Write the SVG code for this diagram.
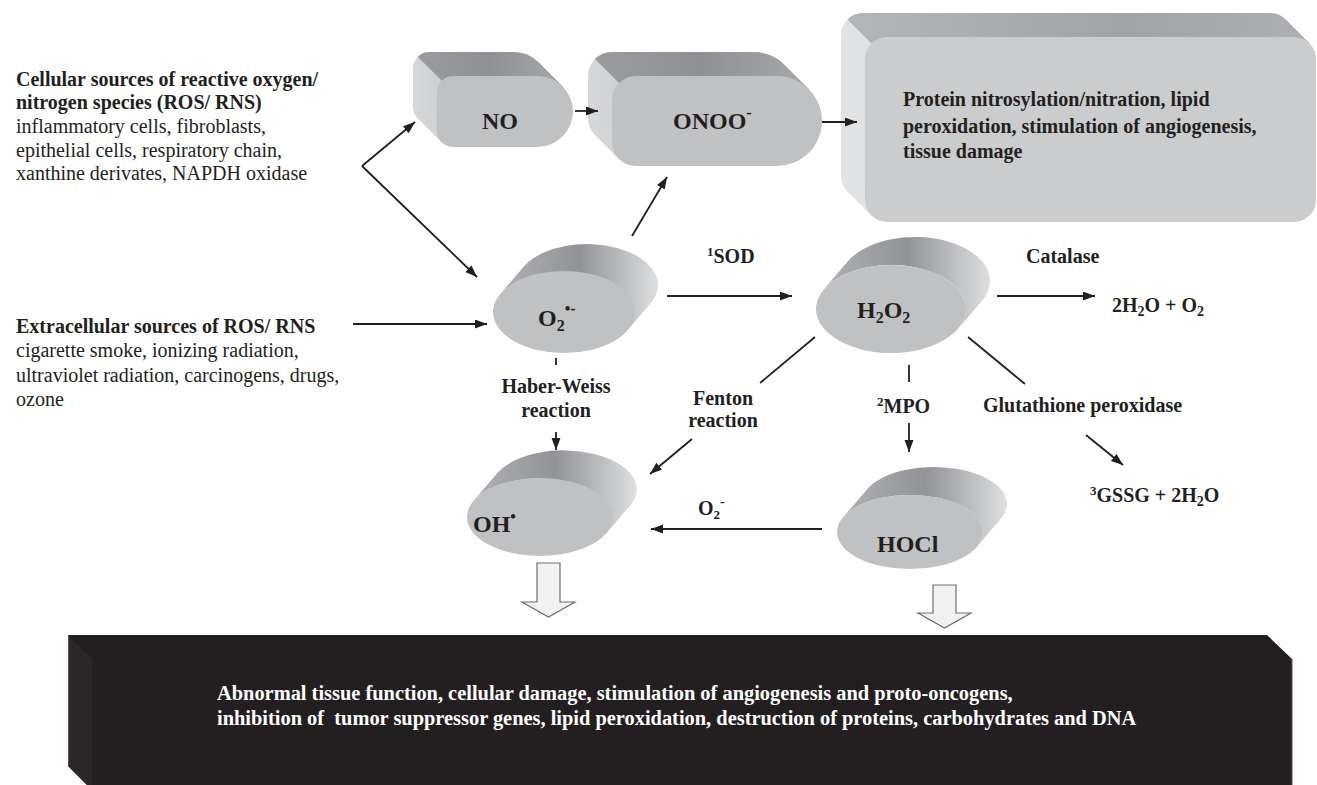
<svg xmlns="http://www.w3.org/2000/svg" width="1317" height="785" viewBox="0 0 1317 785">
<style>
text{font-family:"Liberation Serif","Times New Roman",serif;fill:#231f20}
.b{font-weight:bold}
.l{font-size:20px}
.n{font-size:24px;font-weight:bold}
.w{fill:#ffffff;font-size:20.4px;font-weight:bold;white-space:pre}
.c{stroke:#231f20;stroke-width:1.8;fill:none}
.a{marker-end:url(#ah)}
.front{fill:#c0c1c3}
.pfront{fill:#cbcccd}
.hollow{fill:#f1f1f1;stroke:#6d6e71;stroke-width:1.2}
</style>
<defs>
<marker id="ah" markerUnits="userSpaceOnUse" markerWidth="12" markerHeight="10" refX="12" refY="4.5" orient="auto">
<path d="M0,0 L12,4.5 L0,9 Z" fill="#231f20"/>
</marker>
<linearGradient id="side" x1="0" y1="0" x2="1" y2="0">
<stop offset="0" stop-color="#b0b1b4"/>
<stop offset="0.5" stop-color="#929396"/>
<stop offset="1" stop-color="#dedfe1"/>
</linearGradient>
<linearGradient id="left" x1="0" y1="0" x2="1" y2="0">
<stop offset="0" stop-color="#d6d7d9"/>
<stop offset="1" stop-color="#b2b3b6"/>
</linearGradient>
<linearGradient id="top" x1="0" y1="0" x2="1" y2="0">
<stop offset="0" stop-color="#9a9b9e"/>
<stop offset="0.5" stop-color="#8f9093"/>
<stop offset="1" stop-color="#a7a8ab"/>
</linearGradient>
<linearGradient id="pleft" x1="0" y1="0" x2="1" y2="0">
<stop offset="0" stop-color="#e2e3e4"/>
<stop offset="1" stop-color="#c8c9cb"/>
</linearGradient>
<linearGradient id="ptop" x1="0" y1="0" x2="1" y2="0">
<stop offset="0" stop-color="#b4b5b7"/>
<stop offset="0.6" stop-color="#a2a3a6"/>
<stop offset="1" stop-color="#aeafb2"/>
</linearGradient>
</defs>

<g id="text-cellular">
<text class="l b" x="16" y="86">Cellular sources of reactive oxygen/</text>
<text class="l b" x="16" y="109">nitrogen species (ROS/ RNS)</text>
<text class="l" x="16" y="133">inflammatory cells, fibroblasts,</text>
<text class="l" x="16" y="157">epithelial cells, respiratory chain,</text>
<text class="l" x="16" y="180">xanthine derivates, NAPDH oxidase</text>
</g>

<g id="text-extracellular">
<text class="l b" x="16" y="333">Extracellular sources of ROS/ RNS</text>
<text class="l" x="16" y="357">cigarette smoke, ionizing radiation,</text>
<text class="l" x="16" y="382">ultraviolet radiation, carcinogens, drugs,</text>
<text class="l" x="16" y="406">ozone</text>
</g>

<g id="node-NO">
<path fill="url(#left)" d="M429,52 L513.5,52 A35.5,35.5 0 0 1 513.5,123 L429,123 A16,16 0 0 1 413,107 L413,68 A16,16 0 0 1 429,52 Z"/>
<path fill="url(#left)" d="M538.6,62.4 L562.6,86.4 L441.7,142.3 L417.7,118.3 Z"/>
<path fill="url(#top)" d="M417.7,56.7 A16,16 0 0 1 429,52 L513.5,52 A35.5,35.5 0 0 1 538.6,62.4 L562.6,86.4 L441.7,80.7 Z"/>
<path class="front" d="M453,76 L537.5,76 A35.5,35.5 0 0 1 537.5,147 L453,147 A16,16 0 0 1 437,131 L437,92 A16,16 0 0 1 453,76 Z"/>
<text class="n" x="500" y="129" text-anchor="middle">NO</text>
</g>

<g id="node-ONOO">
<path fill="url(#left)" d="M612,52 L753,52 A45,45 0 0 1 753,142 L612,142 A24,24 0 0 1 588,118 L588,76 A24,24 0 0 1 612,52 Z"/>
<path fill="url(#left)" d="M784.8,65.2 L808.8,89.2 L619,159 L595,135 Z"/>
<path fill="url(#top)" d="M595,59 A24,24 0 0 1 612,52 L753,52 A45,45 0 0 1 784.8,65.2 L808.8,89.2 L619,83 Z"/>
<path class="front" d="M636,76 L777,76 A45,45 0 0 1 777,166 L636,166 A24,24 0 0 1 612,142 L612,100 A24,24 0 0 1 636,76 Z"/>
<text class="n" x="673" y="129">ONOO<tspan font-size="16" dy="-11">-</tspan></text>
</g>

<g id="node-protein">
<rect x="841" y="13" width="451" height="185" rx="22" fill="url(#pleft)"/>
<path fill="url(#pleft)" d="M1285.6,19.4 L1309.6,43.4 L871.4,215.6 L847.4,191.6 Z"/>
<path fill="url(#ptop)" d="M847.4,19.4 A22,22 0 0 1 863,13 L1270,13 A22,22 0 0 1 1285.6,19.4 L1309.6,43.4 L871.4,43.4 Z"/>
<rect class="pfront" x="865" y="37" width="451" height="185" rx="22"/>
<text class="l b" x="903" y="106">Protein nitrosylation/nitration, lipid</text>
<text class="l b" x="903" y="133">peroxidation, stimulation of angiogenesis,</text>
<text class="l b" x="903" y="158">tissue damage</text>
</g>

<g id="node-O2">
<path fill="url(#side)" d="M500.5,293.7 L524.5,265.7 A71,41 0 0 1 651.5,302.3 L627.5,330.3 A71,41 0 0 0 500.5,293.7 Z"/>
<ellipse class="front" cx="564" cy="312" rx="71" ry="41"/>
<text class="n" x="538" y="326">O<tspan font-size="16" dy="5">2</tspan><tspan font-size="16" dy="-17">•-</tspan></text>
</g>

<g id="node-H2O2">
<path fill="url(#side)" d="M823.9,289.3 L847.9,261.3 A75,44 0 0 1 982.1,300.7 L958.1,328.7 A75,44 0 0 0 823.9,289.3 Z"/>
<ellipse class="front" cx="891" cy="309" rx="75" ry="44"/>
<text class="n" x="857" y="318">H<tspan font-size="16" dy="5">2</tspan><tspan dy="-5">O</tspan><tspan font-size="16" dy="5">2</tspan></text>
</g>

<g id="node-OH">
<path fill="url(#side)" d="M473.6,500.8 L497.6,472.8 A73,39 0 0 1 630.4,505.2 L606.4,533.2 A73,39 0 0 0 473.6,500.8 Z"/>
<ellipse class="front" cx="540" cy="517" rx="73" ry="39"/>
<text class="n" x="473" y="532">OH<tspan font-size="16" dy="-10">•</tspan></text>
</g>

<g id="node-HOCl">
<path fill="url(#side)" d="M842.1,518.4 L866.1,490.4 A73,37 0 0 1 1001.9,517.6 L977.9,545.6 A73,37 0 0 0 842.1,518.4 Z"/>
<ellipse class="front" cx="910" cy="532" rx="73" ry="37"/>
<text class="n" x="877" y="552">HOCl</text>
</g>

<g id="labels">
<text class="l b" x="707" y="263"><tspan font-size="13" dy="-7">1</tspan><tspan dy="7">SOD</tspan></text>
<text class="l b" x="1026" y="263">Catalase</text>
<text class="l b" x="1112" y="312">2H<tspan font-size="14" dy="4">2</tspan><tspan dy="-4">O + O</tspan><tspan font-size="14" dy="4">2</tspan></text>
<text class="l b" x="556" y="393" text-anchor="middle">Haber-Weiss</text>
<text class="l b" x="556" y="417" text-anchor="middle">reaction</text>
<text class="l b" x="723" y="405" text-anchor="middle">Fenton</text>
<text class="l b" x="723" y="427" text-anchor="middle">reaction</text>
<text class="l b" x="877" y="413"><tspan font-size="13" dy="-7">2</tspan><tspan dy="7">MPO</tspan></text>
<text class="l b" x="983" y="412">Glutathione peroxidase</text>
<text class="l b" x="1090" y="502"><tspan font-size="13" dy="-7">3</tspan><tspan dy="7">GSSG + 2H</tspan><tspan font-size="14" dy="4">2</tspan><tspan dy="-4">O</tspan></text>
<text class="l b" x="698" y="515">O<tspan font-size="13" dy="4">2</tspan><tspan font-size="14" dy="-13">-</tspan></text>
</g>

<g id="connectors">
<line class="c a" x1="362" y1="166" x2="415" y2="122"/>
<line class="c a" x1="362" y1="166" x2="477" y2="277"/>
<line class="c a" x1="353" y1="324" x2="487" y2="324"/>
<line class="c a" x1="575" y1="111" x2="598" y2="111"/>
<line class="c a" x1="822" y1="122" x2="857" y2="122"/>
<line class="c a" x1="632" y1="236" x2="667" y2="177"/>
<line class="c a" x1="667" y1="296" x2="792" y2="296"/>
<line class="c a" x1="997" y1="296" x2="1095" y2="296"/>
<line class="c" x1="556" y1="358" x2="556" y2="365"/>
<line class="c a" x1="556" y1="432" x2="556" y2="450"/>
<line class="c" x1="815" y1="337" x2="760" y2="383"/>
<line class="c a" x1="692" y1="439" x2="650" y2="474"/>
<line class="c" x1="909" y1="365" x2="909" y2="382"/>
<line class="c a" x1="909" y1="423" x2="909" y2="452"/>
<line class="c" x1="968" y1="337" x2="1025" y2="384"/>
<line class="c a" x1="1086" y1="435" x2="1123" y2="465"/>
<line class="c a" x1="822" y1="529" x2="651" y2="529"/>
<path class="hollow" d="M537,563 L560,563 L560,602 L575,602 L548.5,617 L522,602 L537,602 Z"/>
<path class="hollow" d="M933,585 L956,585 L956,613 L971,613 L944.5,628 L918,613 L933,613 Z"/>
</g>

<g id="node-outcome">
<path fill="#231f20" d="M68,635 L1267,635 L1292,659 L1292,785 L87,785 L68,766 Z"/>
<path fill="#2b2728" d="M68,635 L92,659 L92,785 L87,785 L68,766 Z"/>
<line x1="1292" y1="659" x2="1292" y2="785" stroke="#5a5758" stroke-width="1"/>
<line x1="68.5" y1="635" x2="68.5" y2="766" stroke="#5a5758" stroke-width="1"/>
<text class="w" x="217" y="700">Abnormal tissue function, cellular damage, stimulation of angiogenesis and proto-oncogens,</text>
<text class="w" x="217" y="725">inhibition of  tumor suppressor genes, lipid peroxidation, destruction of proteins, carbohydrates and DNA</text>
</g>
</svg>
